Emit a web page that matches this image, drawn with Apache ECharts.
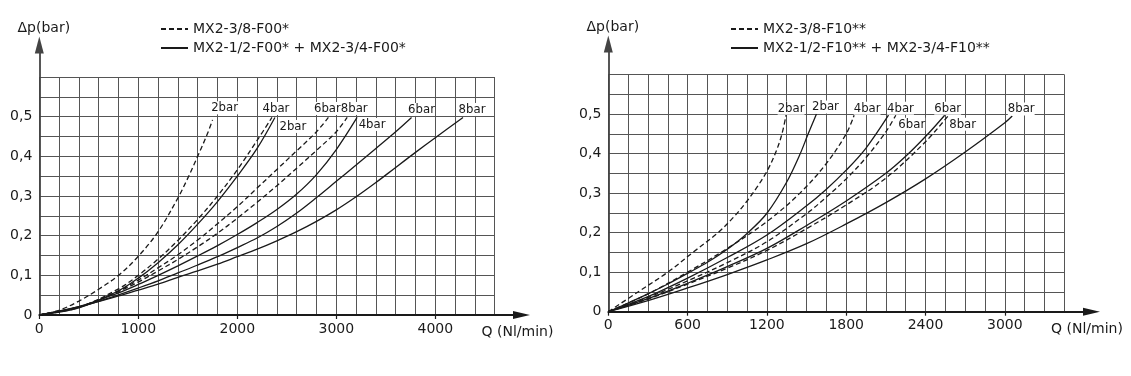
<!DOCTYPE html>
<html>
<head>
<meta charset="utf-8">
<script src="https://cdn.jsdelivr.net/npm/echarts@6/dist/echarts.min.js"></script>
<style>
html,body{margin:0;padding:0;background:#fff;}
#main{width:1131px;height:376px;}
</style>
</head>
<body>
<div id="main"></div>
<script>
// left chart : MX2 F00 (Q in Nl/min, dp in bar)
var l_d2 = [[0,0],[200,0.012],[400,0.035],[600,0.065],[800,0.1],[1000,0.148],[1200,0.21],[1400,0.295],[1500,0.345],[1600,0.4],[1700,0.458],[1750,0.492]];
var l_d4 = [[0,0],[400,0.019],[800,0.066],[1000,0.1],[1200,0.141],[1400,0.188],[1600,0.241],[1800,0.3],[2000,0.366],[2200,0.44],[2350,0.498]];
var l_d6 = [[0,0],[400,0.02],[800,0.061],[1000,0.088],[1200,0.119],[1400,0.152],[1600,0.189],[1800,0.23],[2000,0.273],[2200,0.32],[2400,0.367],[2600,0.414],[2800,0.462],[2920,0.498]];
var l_d8 = [[0,0],[400,0.02],[800,0.059],[1000,0.083],[1200,0.111],[1400,0.14],[1600,0.172],[1800,0.206],[2000,0.244],[2200,0.284],[2400,0.326],[2600,0.37],[2800,0.415],[3000,0.462],[3110,0.498]];
var l_s2 = [[0,0],[400,0.018],[800,0.061],[1000,0.093],[1200,0.132],[1400,0.177],[1600,0.229],[1800,0.286],[2000,0.35],[2200,0.42],[2380,0.498]];
var l_s4 = [[0,0],[400,0.021],[800,0.056],[1000,0.077],[1200,0.1],[1400,0.124],[1600,0.149],[1800,0.175],[2000,0.203],[2200,0.233],[2400,0.266],[2600,0.305],[2800,0.354],[3000,0.417],[3210,0.498]];
var l_s6 = [[0,0],[400,0.02],[800,0.051],[1000,0.068],[1200,0.086],[1400,0.106],[1600,0.126],[1800,0.147],[2000,0.17],[2200,0.194],[2400,0.223],[2600,0.257],[2800,0.296],[3000,0.337],[3200,0.378],[3400,0.42],[3600,0.462],[3760,0.498]];
var l_s8 = [[0,0],[400,0.021],[800,0.048],[1000,0.063],[1200,0.078],[1400,0.095],[1600,0.111],[1800,0.128],[2000,0.147],[2200,0.166],[2400,0.187],[2600,0.21],[2800,0.236],[3000,0.265],[3200,0.298],[3400,0.334],[3600,0.372],[3800,0.41],[4000,0.447],[4280,0.498]];

// right chart : MX2 F10
var r_d2 = [[0,0],[225,0.05],[450,0.1],[640,0.15],[830,0.2],[950,0.24],[1050,0.28],[1125,0.315],[1200,0.355],[1263,0.4],[1310,0.445],[1345,0.497]];
var r_d4 = [[0,0],[300,0.045],[600,0.1],[900,0.16],[1200,0.228],[1450,0.3],[1650,0.375],[1800,0.45],[1860,0.497]];
var r_d6 = [[0,0],[300,0.036],[600,0.078],[900,0.124],[1200,0.177],[1500,0.248],[1650,0.29],[1800,0.336],[1950,0.39],[2100,0.455],[2175,0.497]];
var r_d8 = [[0,0],[300,0.032],[600,0.07],[900,0.11],[1200,0.155],[1500,0.21],[1800,0.27],[2100,0.338],[2400,0.43],[2575,0.497]];
var r_s2 = [[0,0],[150,0.022],[300,0.045],[450,0.07],[600,0.097],[750,0.125],[900,0.158],[1050,0.198],[1200,0.249],[1350,0.328],[1450,0.398],[1510,0.448],[1575,0.5]];
var r_s4 = [[0,0],[300,0.038],[600,0.085],[900,0.137],[1200,0.194],[1500,0.268],[1650,0.31],[1800,0.358],[1950,0.414],[2120,0.497]];
var r_s6 = [[0,0],[300,0.033],[600,0.072],[900,0.114],[1200,0.16],[1500,0.218],[1800,0.28],[2100,0.35],[2250,0.393],[2400,0.443],[2545,0.497]];
var r_s8 = [[0,0],[300,0.028],[600,0.06],[900,0.094],[1200,0.131],[1500,0.172],[1800,0.222],[2100,0.276],[2400,0.336],[2700,0.404],[3000,0.478],[3056,0.495]];

var ticksL = [0,1000,2000,3000,4000];
var ticksR = [0,600,1200,1800,2400,3000];
var ticksY = [0,0.1,0.2,0.3,0.4,0.5];
var legL = ['MX2-3/8-F00*','MX2-1/2-F00* + MX2-3/4-F00*'];
var legR = ['MX2-3/8-F10**','MX2-1/2-F10** + MX2-3/4-F10**'];

var FONT = 'DejaVu Sans';
var LBLFONT = "'DejaVu Sans Condensed', 'DejaVu Sans'";
var INK = '#1a1a1a';

var chart = echarts.init(document.getElementById('main'), null, {renderer:'canvas'});

function curve(name, pts, dashed, text, off, idx){
	return {
		name: name, type: 'line', xAxisIndex: idx, yAxisIndex: idx,
		data: pts, smooth: 0.35, symbol: 'none', showSymbol: false,
		silent: true, animation: false,
		lineStyle: {color: INK, width: 1.3, type: dashed ? [5,3] : 'solid'},
		itemStyle: {color: INK},
		markPoint: {
			symbol: 'circle', symbolSize: 0, silent: true, animation: false,
			itemStyle: {color: 'rgba(0,0,0,0)'},
			label: {show: true, formatter: text, offset: off, color: INK, fontSize: 13,
				fontFamily: LBLFONT, backgroundColor: '#fff', padding: [0,0]},
			data: [{coord: pts[pts.length-1]}]
		}
	};
}

// grid lines only
function gridX(gi, max, step){
	return {
		gridIndex: gi, type: 'value', position: 'bottom', min: 0, max: max, interval: step,
		axisLine: {show: false}, axisTick: {show: false}, axisLabel: {show: false},
		splitLine: {show: true, lineStyle: {color: '#555', width: 1}}
	};
}
// tick labels + ticks on the same grid
function labelX(gi, max, ticks){
	return {
		gridIndex: gi, type: 'value', position: 'bottom', min: 0, max: max,
		axisLine: {show: false}, splitLine: {show: false},
		axisTick: {show: true, customValues: ticks, length: 4, lineStyle: {color: INK, width: 1.2}},
		axisLabel: {customValues: ticks, margin: 7, color: INK, fontSize: 14, fontFamily: FONT,
			formatter: function(v){ return String(v); }}
	};
}
function dataY(gi){
	return {
		gridIndex: gi, type: 'value', min: 0, max: 0.6, interval: 0.05,
		axisLine: {show: false}, axisTick: {show: false},
		axisLabel: {customValues: ticksY, margin: 7, color: INK, fontSize: 14, fontFamily: FONT,
			formatter: function(v){ return v === 0 ? '0' : v.toFixed(1).replace('.', ','); }},
		splitLine: {show: true, lineStyle: {color: '#555', width: 1}}
	};
}
function arrowX(gi, gap, pad){
	return {
		gridIndex: gi, type: 'value', min: 0, max: 1,
		axisLabel: {show: false}, axisTick: {show: false}, splitLine: {show: false},
		axisLine: {show: true, symbol: ['none','triangle'], symbolSize: [8,17], lineStyle: {color: INK, width: 1.8}},
		name: 'Q (Nl/min)', nameLocation: 'end', nameGap: gap, nameMoveOverlap: false,
		nameTextStyle: {color: INK, fontSize: 14, fontFamily: FONT, align: 'center', verticalAlign: 'top', padding: [pad,0,0,0]}
	};
}
function arrowY(gi){
	return {
		gridIndex: gi, type: 'value', min: 0, max: 1,
		axisLabel: {show: false}, axisTick: {show: false}, splitLine: {show: false},
		axisLine: {show: true, symbol: ['none','triangle'], symbolSize: [9,17], lineStyle: {color: '#444', width: 1.8}},
		name: 'Δp(bar)', nameLocation: 'end', nameGap: 10, nameMoveOverlap: false,
		nameTextStyle: {color: INK, fontSize: 14, fontFamily: FONT, align: 'center', padding: [0,0,0,9]}
	};
}
function legend(names, left){
	return {
		data: names, left: left, top: 22, padding: 0, orient: 'vertical', selectedMode: false,
		itemWidth: 27, itemHeight: 12, itemGap: 5,
		itemStyle: {opacity: 0},
		textStyle: {color: INK, fontSize: 14, fontFamily: FONT}
	};
}

var option = {
	backgroundColor: '#fff',
	animation: false,
	grid: [
		{left: 39.3, top: 77, width: 455.4, height: 238, outerBoundsMode: 'none'},
		{left: 39.3, top: 45, right: 609.5, bottom: 61, outerBoundsMode: 'none'},
		{left: 608.3, top: 74.5, width: 456, height: 237.2, outerBoundsMode: 'none'},
		{left: 608.3, top: 44, right: 39.5, bottom: 64.3, outerBoundsMode: 'none'}
	],
	xAxis: [gridX(0, 4600, 200), arrowX(1, -4, 10), gridX(2, 3450, 150), arrowX(3, -4.5, 11),
		labelX(0, 4600, ticksL), labelX(2, 3450, ticksR)],
	yAxis: [dataY(0), arrowY(1), dataY(2), arrowY(3)],
	legend: [legend(legL, 160), legend(legR, 730)],
	series: [
		curve(legL[0], l_d2, true, '2bar', [12,-12], 0),
		curve(legL[0], l_d4, true, '4bar', [4,-9], 0),
		curve(legL[0], l_d6, true, '6bar', [-1,-9], 0),
		curve(legL[0], l_d8, true, '8bar', [7,-9], 0),
		curve(legL[1], l_s2, false, '2bar', [18,9], 0),
		curve(legL[1], l_s4, false, '4bar', [15,7], 0),
		curve(legL[1], l_s6, false, '6bar', [10,-8], 0),
		curve(legL[1], l_s8, false, '8bar', [9,-8], 0),
		curve(legR[0], r_d2, true, '2bar', [5,-7], 2),
		curve(legR[0], r_d4, true, '4bar', [13,-7], 2),
		curve(legR[0], r_d6, true, '6bar', [16,9], 2),
		curve(legR[0], r_d8, true, '8bar', [14,9], 2),
		curve(legR[1], r_s2, false, '2bar', [9,-7], 2),
		curve(legR[1], r_s4, false, '4bar', [12,-7], 2),
		curve(legR[1], r_s6, false, '6bar', [3,-7], 2),
		curve(legR[1], r_s8, false, '8bar', [9,-7], 2)
	]
};
chart.setOption(option);
</script>
</body>
</html>
